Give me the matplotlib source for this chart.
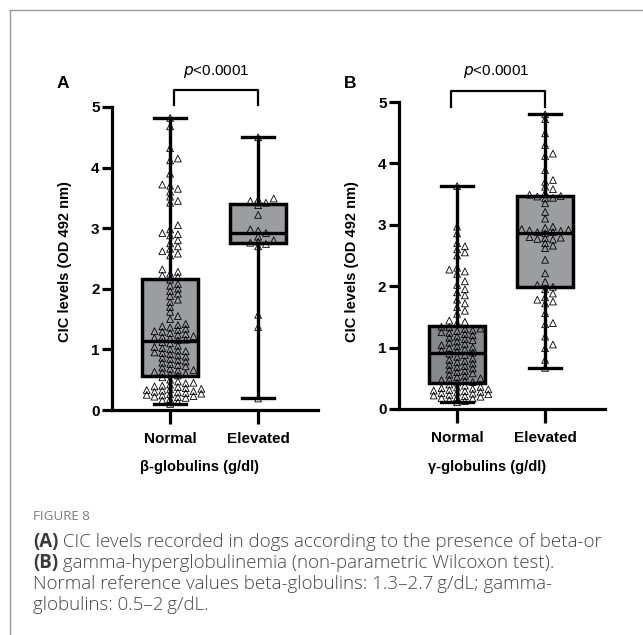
import numpy as np
import matplotlib
matplotlib.use("Agg")
import matplotlib.pyplot as plt

plt.rcParams["font.family"] = ["Liberation Sans", "DejaVu Sans"]

groups = ["Normal", "Elevated"]

# CIC levels (OD 492 nm), beta-globulin groups
beta_normal = [
    4.82, 4.68, 4.32, 4.15, 4.12, 3.90, 3.72, 3.70, 3.65, 3.60,
    3.52, 3.45, 3.42, 3.05, 2.98, 2.92, 2.90, 2.88, 2.80, 2.75,
    2.70, 2.66, 2.62, 2.58, 2.55, 2.32, 2.28, 2.25, 2.22, 2.20,
    2.15, 2.08, 2.05, 2.00, 1.96, 1.92, 1.88, 1.82, 1.78, 1.70,
    1.62, 1.55, 1.50, 1.42, 1.40, 1.38, 1.36, 1.34, 1.32, 1.30,
    1.29, 1.27, 1.25, 1.24, 1.22, 1.20, 1.19, 1.18, 1.16, 1.15,
    1.12, 1.10, 1.06, 1.04, 1.02, 1.00, 0.98, 0.97, 0.95, 0.94,
    0.92, 0.90, 0.88, 0.86, 0.84, 0.82, 0.80, 0.78, 0.76, 0.74,
    0.72, 0.70, 0.68, 0.66, 0.65, 0.63, 0.62, 0.60, 0.59, 0.57,
    0.54, 0.50, 0.47, 0.45, 0.44, 0.42, 0.40, 0.39, 0.38, 0.36,
    0.35, 0.34, 0.33, 0.32, 0.31, 0.30, 0.29, 0.28, 0.27, 0.26,
    0.25, 0.24, 0.23, 0.22, 0.21, 0.20, 0.18, 0.16, 0.13, 0.10,
]
beta_elevated = [
    4.50, 3.49, 3.47, 3.45, 3.42, 3.38, 3.22, 2.98, 2.96, 2.92,
    2.86, 2.80, 2.78, 2.76, 2.74, 2.70, 1.57, 1.37, 0.19,
]

# CIC levels (OD 492 nm), gamma-globulin groups
gamma_normal = [
    3.63, 2.97, 2.86, 2.70, 2.65, 2.60, 2.55, 2.50, 2.30, 2.27,
    2.24, 2.20, 2.08, 2.02, 1.95, 1.90, 1.85, 1.78, 1.72, 1.66,
    1.60, 1.55, 1.44, 1.42, 1.40,
    1.34, 1.33, 1.31, 1.30, 1.28, 1.27, 1.25, 1.24, 1.22, 1.20,
    1.18, 1.16, 1.14, 1.12, 1.10, 1.08, 1.06, 1.04, 1.02, 1.00,
    0.99, 0.97, 0.95, 0.94, 0.92,
    0.90, 0.88, 0.85, 0.82, 0.80, 0.78, 0.76, 0.74, 0.72, 0.70,
    0.68, 0.66, 0.64, 0.62, 0.60, 0.58, 0.56, 0.54, 0.52, 0.50,
    0.48, 0.47, 0.46, 0.44, 0.43,
    0.40, 0.38, 0.36, 0.35, 0.34, 0.33, 0.32, 0.31, 0.30, 0.29,
    0.28, 0.27, 0.26, 0.25, 0.24, 0.23, 0.22, 0.21, 0.20, 0.19,
    0.18, 0.17, 0.15, 0.13, 0.11,
]
gamma_elevated = [
    4.80, 4.72, 4.49, 4.30, 4.16, 4.12, 3.89, 3.73, 3.70, 3.62,
    3.58, 3.52, 3.49, 3.47,
    3.46, 3.44, 3.43, 3.35, 3.21, 3.10, 2.97, 2.95, 2.93, 2.92,
    2.91, 2.90, 2.88, 2.88,
    2.86, 2.80, 2.79, 2.78, 2.77, 2.76, 2.70, 2.66, 2.62, 2.43,
    2.21, 2.07, 2.02, 1.99,
    1.95, 1.88, 1.82, 1.78, 1.75, 1.72, 1.56, 1.40, 1.38, 1.18,
    1.05, 0.99, 0.80, 0.67,
]

panels = [
    ("A", "β-globulins (g/dl)", [beta_normal, beta_elevated], ["#9c9da1", "#9c9da1"]),
    ("B", "γ-globulins (g/dl)", [gamma_normal, gamma_elevated], ["#87888b", "#9c9da1"]),
]

W, H = 643, 635
fig = plt.figure(figsize=(W / 100, H / 100), dpi=100)

# panel axes in pixel coordinates: left, right, bottom, top
ax_px = [(112, 318, 410, 107), (399, 605, 409, 102)]


def swarm(vals, xscale, yscale, w=6.5, h=4.8):
    # simple beeswarm: place each point at the smallest offset free of overlap
    order = np.argsort(vals)
    placed = []
    offs = np.zeros(len(vals))
    for i in order:
        y = vals[i] * yscale
        cands = [0.0]
        for k in range(1, 20):
            cands += [k * w * 0.6, -k * w * 0.6]
        for c in cands:
            ok = True
            for (px, py) in placed:
                if abs(py - y) < h and abs(px - c) < w:
                    ok = False
                    break
            if ok:
                break
        placed.append((c, y))
        offs[i] = c / xscale
    return offs


for (label, xlab, data, colors), (l, r, b, t) in zip(panels, ax_px):
    ax = fig.add_axes([l / W, 1 - b / H, (r - l) / W, (b - t) / H])
    ax.set_xlim(-0.66, 1.68)
    ax.set_ylim(0, 5)
    xscale = (r - l) / 2.34
    yscale = (b - t) / 5.0

    bp = ax.boxplot(data, positions=[0, 1], widths=0.64, whis=(0, 100),
                    patch_artist=True, showfliers=False,
                    boxprops=dict(linewidth=2.5, edgecolor="black"),
                    whiskerprops=dict(linewidth=2.4, color="black"),
                    capprops=dict(linewidth=2.4, color="black"),
                    medianprops=dict(linewidth=2.4, color="black"),
                    capwidths=0.36)
    for patch, c in zip(bp["boxes"], colors):
        patch.set_facecolor(c)
        patch.set_zorder(1)

    for i, vals in enumerate(data):
        vals = np.asarray(vals)
        x = i + swarm(vals, xscale, yscale)
        ax.scatter(x, vals, marker="^", s=24, facecolors="none",
                   edgecolors="black", linewidths=0.6, zorder=4, clip_on=False)

    for side in ["top", "right"]:
        ax.spines[side].set_visible(False)
    for side in ["left", "bottom"]:
        ax.spines[side].set_linewidth(2.3)
    ax.set_yticks(range(6))
    ax.set_xticks([0, 1])
    ax.set_xticklabels(groups)
    ax.tick_params(axis="y", length=7, width=2.3, labelsize=11, pad=2)
    ax.tick_params(axis="x", length=10, width=2.3, labelsize=11, pad=6)
    for tl in ax.get_xticklabels() + ax.get_yticklabels():
        tl.set_fontweight("bold")

    # significance bracket
    if label == "A":
        bx0, bx1, by0, by1, tx, ty = 0.045, 1.0, 5.03, 5.28, 0.53, 5.58
    else:
        bx0, bx1, by0, by1, tx, ty = -0.07, 1.0, 4.92, 5.18, 0.45, 5.49
    ax.plot([bx0, bx0, bx1, bx1], [by0, by1, by1, by0], color="black",
            linewidth=1.6, clip_on=False)
    ax.text(tx, ty, r"$\it{p}$<0.0001", ha="center", va="center",
            fontsize=11, clip_on=False)

    fig.text((l - 47) / W, 1 - 262 / H, "CIC levels (OD 492 nm)", rotation=90,
             ha="center", va="center", fontsize=10.5, fontweight="bold")
    fig.text((l + r - 30) / 2 / W, 1 - 467 / H, xlab, ha="center", va="center",
             fontsize=10.5, fontweight="bold")
    fig.text((l - 49) / W, 1 - 83 / H, label, ha="center", va="center",
             fontsize=12.5, fontweight="bold")

# frame lines around the figure block
fig.add_artist(plt.Line2D([9.5 / W, 1], [1 - 9.5 / H, 1 - 9.5 / H],
                          color="#9a9a9a", linewidth=1.0))
fig.add_artist(plt.Line2D([9.5 / W, 9.5 / W], [0, 1 - 9.5 / H],
                          color="#9a9a9a", linewidth=1.0))

cap_font = ["Open Sans", "DejaVu Sans"]
cap_size = 13.5
fig.text(33 / W, 1 - 517 / H, "FIGURE 8", fontsize=9.6, color="#7a7a7a",
         family=cap_font, va="center")
lines = [
    ("(A)", " CIC levels recorded in dogs according to the presence of beta-or"),
    ("(B)", " gamma-hyperglobulinemia (non-parametric Wilcoxon test)."),
    ("", "Normal reference values beta-globulins: 1.3\u20132.7\u2009g/dL; gamma-"),
    ("", "globulins: 0.5\u20132\u2009g/dL."),
]
cap_color = "#454545"
for k, (head, body) in enumerate(lines):
    y = 1 - (542 + 21 * k) / H
    x = 33 / W
    if head:
        t = fig.text(x, y, head, fontsize=cap_size, color="#3a3a3a",
                     fontweight="bold", family=cap_font, va="center")
        fig.canvas.draw()
        bb = t.get_window_extent()
        x = bb.x1 / W
    fig.text(x, y, body, fontsize=cap_size, color=cap_color, family=cap_font,
             va="center", fontweight="light")

fig.savefig("out.png", dpi=100)
